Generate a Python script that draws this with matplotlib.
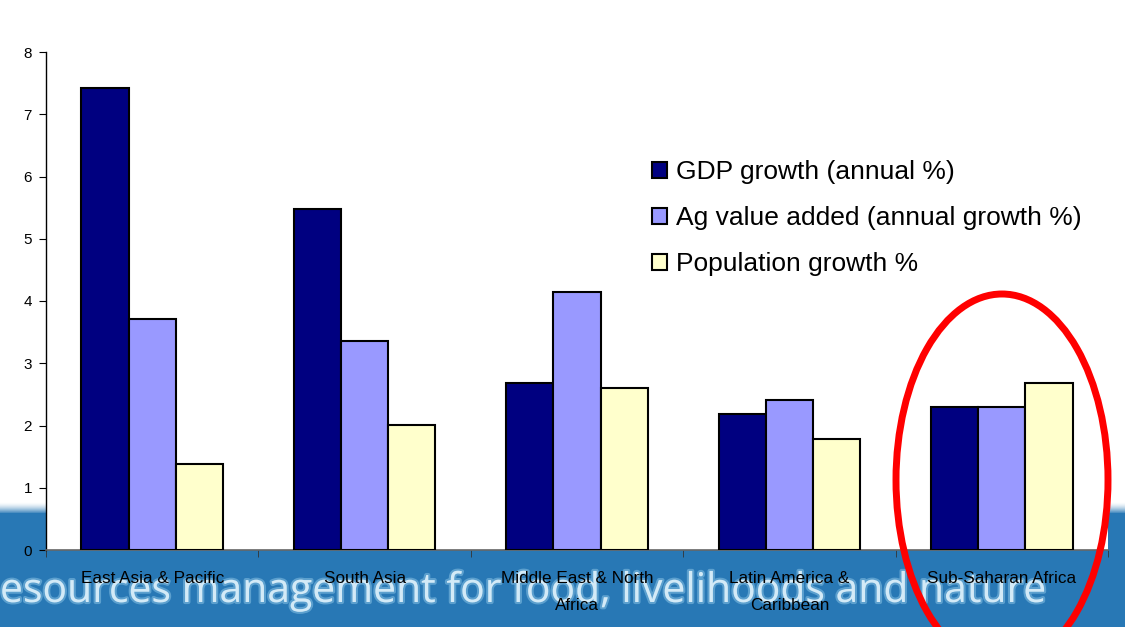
import numpy as np
import matplotlib
matplotlib.use("Agg")
import matplotlib.pyplot as plt
from matplotlib.patches import Ellipse, Rectangle
from matplotlib.colors import to_rgb
import matplotlib.patheffects as pe

# ---- data -------------------------------------------------------------
regions = [
    "East Asia & Pacific",
    "South Asia",
    "Middle East & North\nAfrica",
    "Latin America &\nCaribbean",
    "Sub-Saharan Africa",
]
gdp_growth = [7.42, 5.48, 2.68, 2.18, 2.30]
ag_value_added = [3.71, 3.36, 4.14, 2.41, 2.30]
population_growth = [1.38, 2.01, 2.60, 1.78, 2.68]
series_labels = [
    "GDP growth (annual %)",
    "Ag value added (annual growth %)",
    "Population growth %",
]
series_colors = ["#000080", "#9999ff", "#ffffcc"]
y_ticks = [0, 1, 2, 3, 4, 5, 6, 7, 8]
banner_text = "esources management for food, livelihoods and nature"

plt.rcParams["font.family"] = ["Liberation Sans", "DejaVu Sans"]

W, H = 1125, 627
fig = plt.figure(figsize=(W / 100, H / 100), dpi=100)
fig.patch.set_facecolor("white")

# ---- background banner (pixel coordinates) ----------------------------
banner = "#2878b5"
bg = fig.add_axes([0, 0, 1, 1], zorder=0)
bg.add_patch(Rectangle((0, 513), W, H - 513, color=banner, lw=0))
t = np.linspace(0, 1, 60) ** 1.6
c0 = np.array(to_rgb("white"))
c1 = np.array(to_rgb(banner))
grad = c0[None, None, :] + (c1 - c0)[None, None, :] * t[:, None, None]
bg.imshow(grad, extent=[0, W, 514, 502], aspect="auto", interpolation="bilinear")
bg.set_xlim(0, W)
bg.set_ylim(H, 0)
bg.axis("off")

btxt = bg.text(0, 602, banner_text, fontfamily=["Open Sans", "DejaVu Sans"],
               fontsize=30, color="#d3eaf7", ha="left", va="baseline",
               path_effects=[pe.withStroke(linewidth=3, foreground="#7fbbe0", alpha=0.6)])
renderer = fig.canvas.get_renderer()
bb = btxt.get_window_extent(renderer)
btxt.set_fontsize(30 * 1046 / bb.width)

# ---- main chart -------------------------------------------------------
ax = fig.add_axes([46 / W, 1 - 550 / H, (1108 - 46) / W, (550 - 52) / H], zorder=2)
ax.set_facecolor("white")
x = np.arange(len(regions))
bw = 0.222
for off, vals, col, lab in zip([-1, 0, 1],
                               [gdp_growth, ag_value_added, population_growth],
                               series_colors, series_labels):
    ax.bar(x + off * bw, vals, bw, color=col, edgecolor="black",
           linewidth=1.5, label=lab, zorder=3)

ax.set_xlim(-0.5, len(regions) - 0.5)
ax.set_ylim(0, 8)
ax.set_yticks(y_ticks)
ax.set_xticks(x)
ax.set_xticklabels(regions, fontsize=12.3, linespacing=2.0)
ax.set_xticks(np.arange(-0.5, len(regions), 1), minor=True)
ax.tick_params(axis="x", which="major", length=0, pad=15)
ax.tick_params(axis="x", which="minor", length=5, direction="out", color="#333333")
ax.tick_params(axis="y", length=5, direction="out", labelsize=11, pad=5)
for s in ["top", "right"]:
    ax.spines[s].set_visible(False)
ax.spines["left"].set_color("black")
ax.spines["bottom"].set_color("#666666")
ax.spines["left"].set_linewidth(1)
ax.spines["bottom"].set_linewidth(1.2)

ax.legend(loc="upper left", bbox_to_anchor=(652 / W, 1 - 160 / H),
          bbox_transform=fig.transFigure, frameon=False, fontsize=19,
          handlelength=0.57, handleheight=0.57, handletextpad=0.34,
          labelspacing=0.84, borderpad=0, borderaxespad=0)

# ---- highlight ring ---------------------------------------------------
fig.add_artist(Ellipse((1002 / W, 1 - 480 / H), 212 / W, 372 / H,
                       transform=fig.transFigure, fill=False,
                       edgecolor="#ff0000", linewidth=5, zorder=10))

fig.savefig("out.png", dpi=100)
